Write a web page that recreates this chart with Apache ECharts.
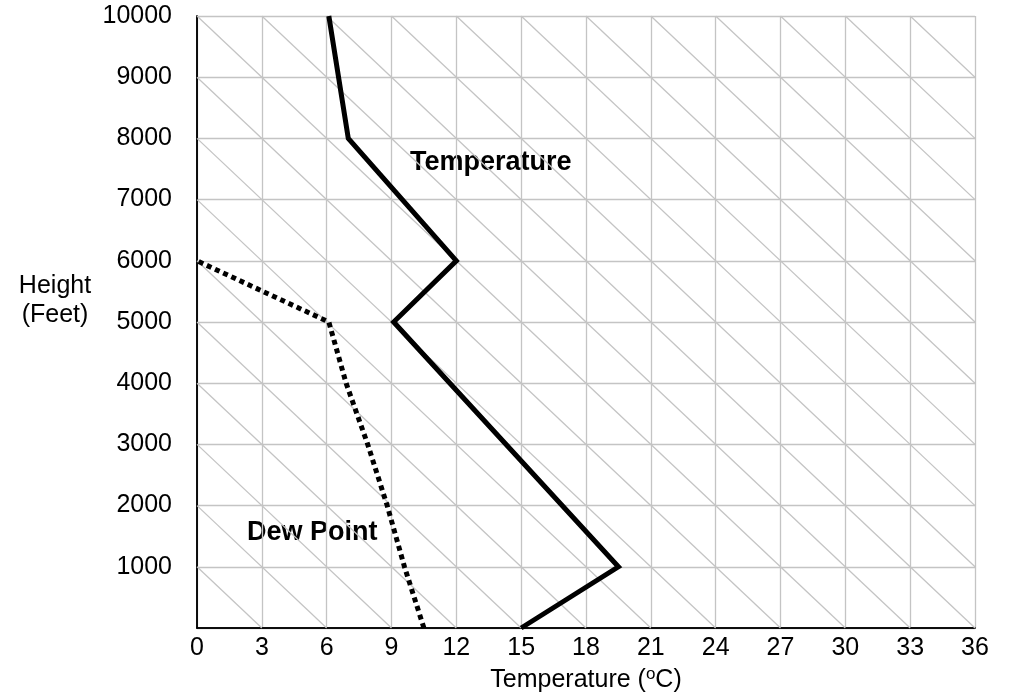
<!DOCTYPE html>
<html>
<head>
<meta charset="utf-8">
<script src="https://cdn.jsdelivr.net/npm/echarts@6/dist/echarts.min.js"></script>
<style>
  html, body { margin: 0; padding: 0; background: #fff; }
  #chart { width: 1015px; height: 699px; }
</style>
</head>
<body>
<div id="chart"></div>
<script>
// heights in feet
var heights = [0, 1000, 5000, 6000, 8000, 10000];
var temps = [15, 19.5, 9.1, 12, 7, 6.1];

var dewHeights = [0, 1000, 2000, 3000, 4000, 5000, 6000];
var dewPoints = [10.5, 9.6, 8.8, 7.9, 6.9, 6.1, 0];

// dry adiabat guide lines, named by their temperature at the ground
var adiabats = [3, 6, 9, 12, 15, 18, 21, 24, 27, 30, 33, 36, 39, 42, 45, 48, 51, 54, 57, 60, 63, 66];

var FONT = '"Liberation Sans", Arial, sans-serif';

window.onload = function () {
	var chart = echarts.init(document.getElementById('chart'));

	// cut each adiabat to the 0..36 / 0..10000 box
	function adiabatLine(c) {
		var start = c <= 36 ? [c, 0] : [36, (c - 36) * 1000 / 3];
		var end = c - 30 >= 0 ? [c - 30, 10000] : [0, c * 1000 / 3];
		return [start, end];
	}

	var series = [];
	adiabats.forEach(function (c) {
		series.push({
			type: 'line',
			data: adiabatLine(c),
			symbol: 'none',
			silent: true,
			z: 1,
			lineStyle: { color: '#c4c4c4', width: 1.3 }
		});
	});

	series.push({
		name: 'Temperature',
		type: 'line',
		data: heights.map(function (h, i) { return [temps[i], h]; }),
		symbol: 'none',
		z: 5,
		lineStyle: { color: '#000', width: 5, join: 'miter' }
	});

	series.push({
		name: 'Dew Point',
		type: 'line',
		data: dewHeights.map(function (h, i) { return [dewPoints[i], h]; }),
		symbol: 'none',
		z: 5,
		lineStyle: { color: '#000', width: 5, type: [5, 4], cap: 'butt' }
	});

	var option = {
		animation: false,
		grid: { left: 197, right: 40, top: 16, bottom: 71, outerBoundsMode: 'none', containLabel: false },
		xAxis: [{
			type: 'value',
			min: 0, max: 36, interval: 3,
			axisLine: { lineStyle: { color: '#000', width: 1.5 } },
			axisTick: { show: false },
			axisLabel: { color: '#000', fontSize: 25, fontFamily: FONT, margin: 8 },
			splitLine: { lineStyle: { color: '#c4c4c4', width: 1.3 } },
			name: 'Temperature ({sup|o}C)',
			nameLocation: 'middle',
			nameGap: 38,
			nameTextStyle: {
				color: '#000', fontSize: 25, fontFamily: FONT,
				rich: { sup: { fontSize: 17, padding: [0, 0, 12, 0], color: '#000', fontFamily: FONT } }
			}
		}, {
			type: 'value', position: 'top',
			min: 0, max: 36, interval: 3,
			axisLine: { show: true, lineStyle: { color: '#000', width: 1.5 } },
			axisTick: { show: false }, axisLabel: { show: false }, splitLine: { show: false }
		}],
		yAxis: [{
			type: 'value',
			min: 0, max: 10000, interval: 1000,
			axisLine: { show: true, lineStyle: { color: '#000', width: 1.5 } },
			axisTick: { show: false },
			axisLabel: {
				color: '#000', fontSize: 25, fontFamily: FONT, margin: 25,
				formatter: function (v) { return v === 0 ? '' : String(v); }
			},
			splitLine: { lineStyle: { color: '#c4c4c4', width: 1.3 } }
		}, {
			type: 'value', position: 'right',
			min: 0, max: 10000, interval: 1000,
			axisLine: { show: true, lineStyle: { color: '#000', width: 1.5 } },
			axisTick: { show: false }, axisLabel: { show: false }, splitLine: { show: false }
		}],
		graphic: [{
			type: 'text', x: 55, y: 272,
			style: { text: 'Height\n(Feet)', fill: '#000', font: '25px ' + FONT, align: 'center', lineHeight: 29 }
		}, {
			type: 'text', x: 410, y: 149,
			style: { text: 'Temperature', fill: '#000', font: 'bold 27px ' + FONT }
		}, {
			type: 'text', x: 247, y: 519,
			style: { text: 'Dew Point', fill: '#000', font: 'bold 27px ' + FONT }
		}],
		series: series
	};

	chart.setOption(option);
};
</script>
</body>
</html>
